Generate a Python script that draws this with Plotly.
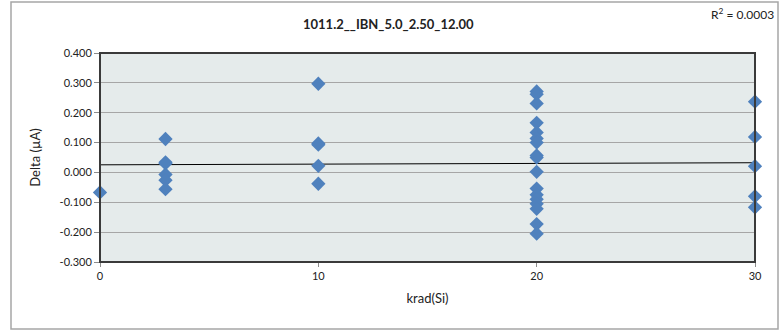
import plotly.graph_objects as go

x_krad = [0,
          3, 3, 3, 3, 3, 3,
          10, 10, 10, 10, 10,
          20, 20, 20, 20, 20, 20, 20, 20, 20, 20, 20, 20, 20, 20, 20, 20, 20,
          30, 30, 30, 30, 30]
delta_ua = [-0.067,
            0.112, 0.034, 0.030, -0.007, -0.026, -0.056,
            0.297, 0.097, 0.093, 0.022, -0.038,
            0.271, 0.262, 0.231, 0.166, 0.134, 0.114, 0.100, 0.057, 0.050, 0.002,
            -0.054, -0.075, -0.090, -0.105, -0.122, -0.173, -0.205,
            0.237, 0.119, 0.021, -0.080, -0.117]
trend_x = [0, 30]
trend_y = [0.0255, 0.0325]
x_ticks = [0, 10, 20, 30]
y_ticks = [-0.3, -0.2, -0.1, 0.0, 0.1, 0.2, 0.3, 0.4]
y_tick_labels = ["-0.300", "-0.200", "-0.100", "0.000", "0.100", "0.200", "0.300", "0.400"]
title_text = "1011.2__IBN_5.0_2.50_12.00"
r2_text = "R<sup>2</sup> = 0.0003"

FONT = "Lato, 'Open Sans', sans-serif"

fig = go.Figure()
fig.add_trace(go.Scatter(x=trend_x, y=trend_y, mode="lines",
                         line=dict(color="black", width=1), hoverinfo="skip",
                         showlegend=False))
fig.add_trace(go.Scatter(x=x_krad, y=delta_ua, mode="markers",
                         marker=dict(symbol="diamond", size=11, color="#4F81BD",
                                     line=dict(width=0)),
                         showlegend=False, cliponaxis=False))

fig.update_layout(
    width=780, height=333,
    margin=dict(l=100, r=25, t=53, b=71),
    paper_bgcolor="white",
    plot_bgcolor="#E5EBEB",
    font=dict(family=FONT, size=11, color="#222222"),
    xaxis=dict(range=[0, 30], tickvals=x_ticks, ticks="outside", ticklen=4,
               tickcolor="#8C8C8C", showgrid=False, zeroline=False,
               showline=False, tickfont=dict(size=11),
               title=dict(text="krad(Si)", font=dict(size=13), standoff=12)),
    yaxis=dict(range=[-0.3, 0.4], tickvals=y_ticks, ticktext=y_tick_labels,
               ticks="outside", ticklen=5, tickcolor="#8C8C8C",
               showgrid=True, gridcolor="#A6A6A6", gridwidth=1,
               zeroline=False, showline=False, tickfont=dict(size=11),
               title=dict(text="Delta (µA)", font=dict(size=13), standoff=16)),
    shapes=[
        dict(type="rect", xref="paper", yref="paper", x0=0, x1=1, y0=0, y1=1,
             line=dict(color="#3A3A3A", width=2), fillcolor="rgba(0,0,0,0)",
             layer="above"),
        dict(type="rect", xref="paper", yref="paper",
             x0=-89/655, x1=(778-100)/655, y0=-(329-262)/209, y1=1 + (53-2)/209,
             line=dict(color="#A6A6A6", width=1.5), fillcolor="rgba(0,0,0,0)"),
    ],
    annotations=[
        dict(text="<b>" + title_text + "</b>", xref="paper", yref="paper",
             x=(388-100)/655, y=1 + (53-24)/209, xanchor="center", yanchor="middle",
             showarrow=False, font=dict(size=13, color="#222222")),
        dict(text=r2_text, xref="paper", yref="paper",
             x=(776-100)/655, y=1 + (53-14)/209, xanchor="right", yanchor="middle",
             showarrow=False, font=dict(size=12, color="#222222")),
    ],
)

fig.write_html("out.html")
